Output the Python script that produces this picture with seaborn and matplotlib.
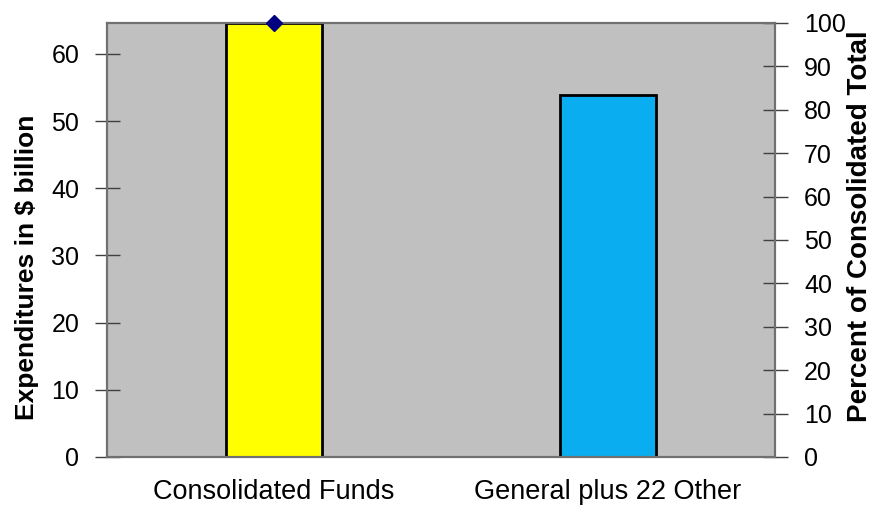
import numpy as np
import pandas as pd
import matplotlib
matplotlib.use("Agg")
import matplotlib.pyplot as plt
import seaborn as sns

# data
categories = ["Consolidated Funds", "General plus 22 Other"]
expenditures = [64.6, 53.9]          # $ billion
bar_colors = ["#FFFF00", "#0AADEF"]
percent_cats = ["Consolidated Funds"]
percent_total = [100]

sns.set_style("white")
plt.rcParams["font.family"] = ["Liberation Sans", "DejaVu Sans"]
plt.rcParams["text.color"] = "black"
plt.rcParams["axes.labelcolor"] = "black"
plt.rcParams["xtick.labelcolor"] = "black"
plt.rcParams["ytick.labelcolor"] = "black"

df = pd.DataFrame({"fund": categories, "spend": expenditures})

fig = plt.figure(figsize=(8.81, 5.20), dpi=100)
ax = fig.add_axes([0.1215, 0.1212, 0.7582, 0.8346])
ax.set_facecolor("#C0C0C0")

sns.barplot(data=df, x="fund", y="spend", hue="fund", palette=bar_colors,
            legend=False, width=0.285, edgecolor="black", linewidth=2, ax=ax,
            saturation=1)
ax.set_xlim(-0.5, 1.5)
ax.set_ylim(0, 64.6)
ax.set_yticks(np.arange(0, 61, 10))
ax.set_xlabel("")
ax.set_ylabel("Expenditures in $ billion", fontsize=19, fontweight="bold")
ax.yaxis.label.set_verticalalignment("center")
ax.yaxis.set_label_coords(-0.1198, 0.438)
ax.tick_params(axis="y", direction="inout", length=18, width=1, color="#404040",
               labelsize=18, pad=11, labelcolor="black")
ax.tick_params(axis="x", which="major", length=0, labelsize=19.5, pad=16,
               labelcolor="black")
ax.set_xticks([-0.5, 0.5, 1.5], minor=True)
ax.tick_params(axis="x", which="minor", direction="inout", length=18, color="#404040")
for s in ax.spines.values():
    s.set_color("#707070")
    s.set_linewidth(1.5)

ax2 = ax.twinx()
pct_idx = [categories.index(c) for c in percent_cats]
ax2.plot(pct_idx, percent_total, marker="D", color="#000080", linestyle="none",
         markersize=8.5, clip_on=False, zorder=5)
ax2.set_ylim(0, 100)
ax2.set_yticks(np.arange(0, 101, 10))
ax2.set_ylabel("Percent of Consolidated Total", fontsize=20, fontweight="bold")
ax2.yaxis.label.set_verticalalignment("center")
ax2.yaxis.set_label_coords(1.1272, 0.532)
ax2.tick_params(axis="y", direction="inout", length=18, width=1, color="#404040",
                labelsize=18, pad=12, labelcolor="black")
for s in ax2.spines.values():
    s.set_color("#707070")
    s.set_linewidth(1.5)

fig.savefig("out.png", dpi=100)
